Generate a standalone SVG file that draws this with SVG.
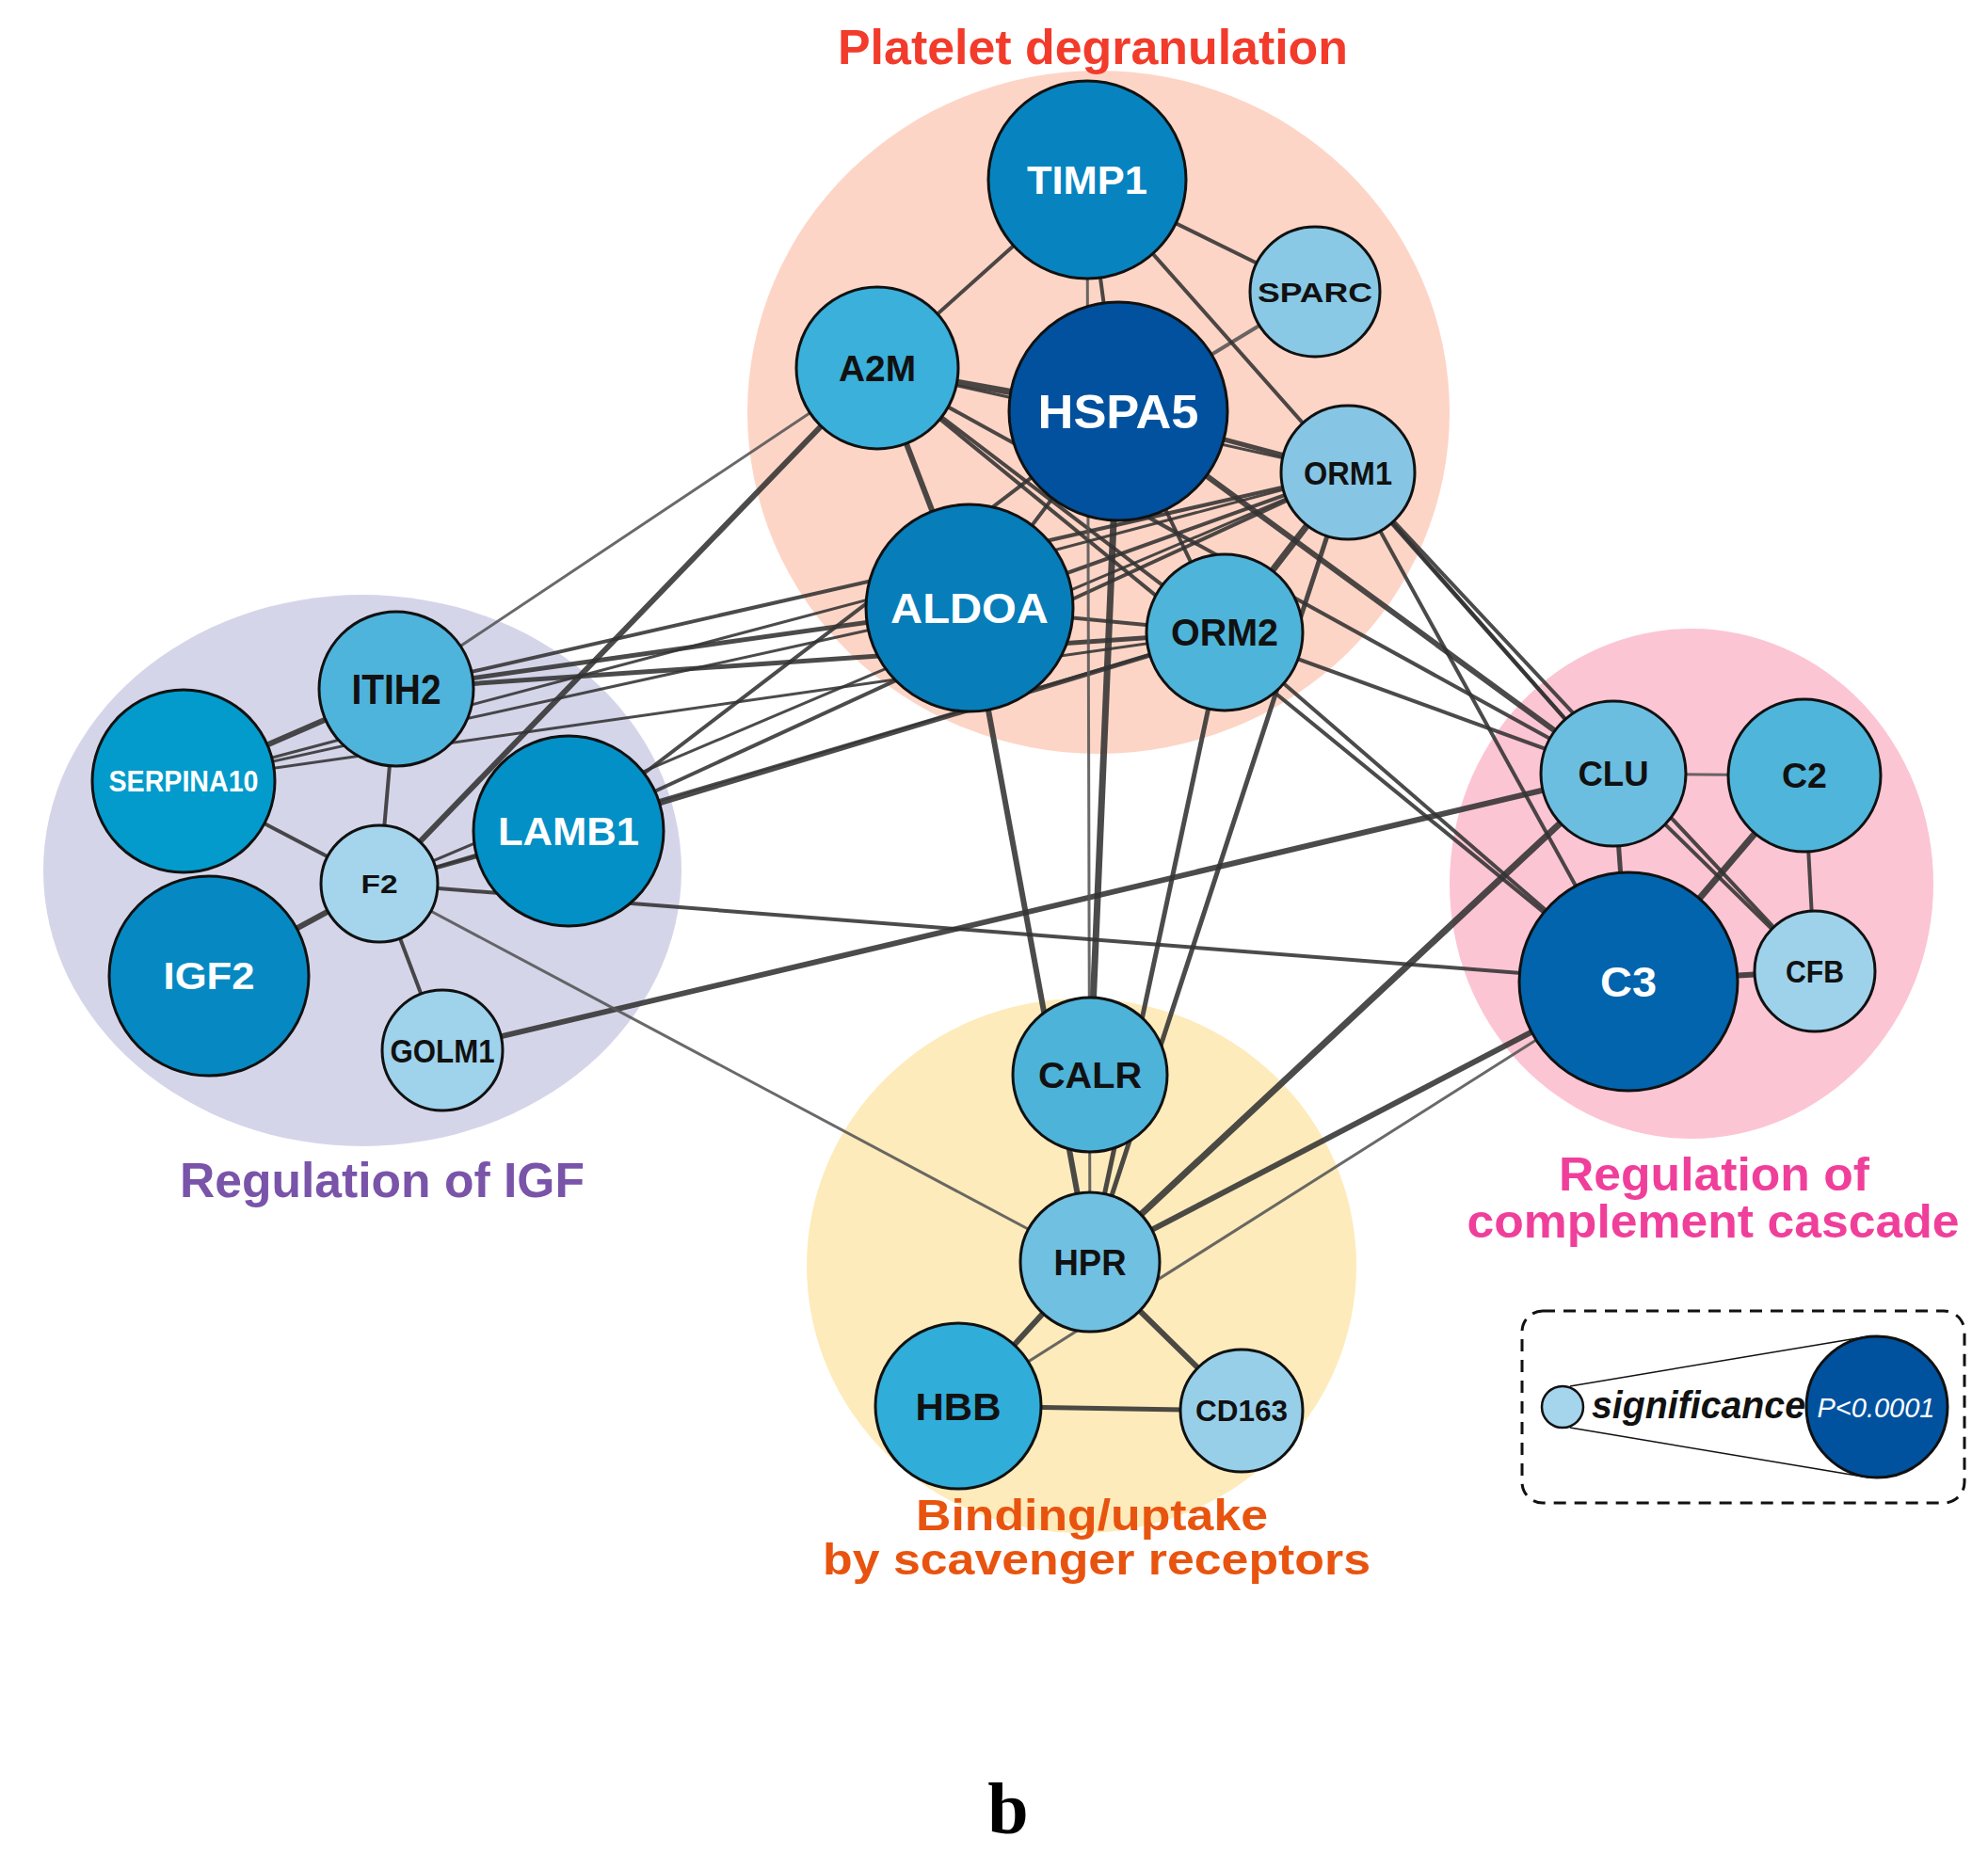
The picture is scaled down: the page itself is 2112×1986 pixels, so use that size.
<svg xmlns="http://www.w3.org/2000/svg" width="2112" height="1986" viewBox="0 0 2112 1986">
<style>
.bg{stroke:none}
.ed line{stroke:#333;stroke-linecap:round;opacity:.88}
.w7{stroke-width:7}.w6{stroke-width:6}.w5{stroke-width:5}.w4{stroke-width:4}.w3{stroke-width:3}
.ed line.lt{stroke:#555}
.nd circle{stroke:#111;stroke-width:3}
.lb{font-family:"Liberation Sans",Arial,sans-serif;font-weight:bold;text-anchor:middle}
.wh{fill:#fff}.bk{fill:#111}
.tt{font-family:"Liberation Sans",Arial,sans-serif;font-weight:bold;text-anchor:middle}
</style>
<rect width="2112" height="1986" fill="#fff"/>
<g id="backgrounds">
<ellipse class="bg" cx="1167" cy="438" rx="373" ry="363" fill="#fdd5c6"/>
<ellipse class="bg" cx="385" cy="925" rx="339" ry="293" fill="#d5d5ea"/>
<ellipse class="bg" cx="1797" cy="939" rx="257" ry="271" fill="#fcc5d4"/>
<ellipse class="bg" cx="1149" cy="1345" rx="292" ry="284" fill="#feebbb"/>
</g>
<g id="group-labels">
<text class="tt" x="1161" y="68" font-size="52" fill="#f23b2b" textLength="542" lengthAdjust="spacingAndGlyphs">Platelet degranulation</text>
<text class="tt" x="406" y="1272" font-size="52" fill="#7954a9" textLength="430" lengthAdjust="spacingAndGlyphs">Regulation of IGF</text>
<text class="tt" x="1821" y="1265" font-size="50" fill="#f03f9b" textLength="330" lengthAdjust="spacingAndGlyphs">Regulation of</text>
<text class="tt" x="1820" y="1315" font-size="50" fill="#f03f9b" textLength="523" lengthAdjust="spacingAndGlyphs">complement cascade</text>
<text class="tt" x="1160" y="1626" font-size="47" fill="#e8540f" textLength="374" lengthAdjust="spacingAndGlyphs">Binding/uptake</text>
<text class="tt" x="1165" y="1673" font-size="47" fill="#e8540f" textLength="582" lengthAdjust="spacingAndGlyphs">by scavenger receptors</text>
</g>
<g id="connectors" class="ed">
<line class="w7" x1="932" y1="391" x2="1188" y2="437"/>
<line class="w6" x1="932" y1="391" x2="1030" y2="646"/>
<line class="w7" x1="1188" y1="437" x2="1158" y2="1142"/>
<line class="w6" x1="1188" y1="437" x2="1714" y2="822"/>
<line class="w6" x1="403" y1="939" x2="932" y2="391"/>
<line class="w7" x1="1432" y1="502" x2="1301" y2="672"/>
<line class="w6" x1="195" y1="830" x2="421" y2="732"/>
<line class="w6" x1="222" y1="1037" x2="403" y2="939"/>
<line class="w6" x1="470" y1="1116" x2="1714" y2="822"/>
<line class="w7" x1="1714" y1="822" x2="1158" y2="1341"/>
<line class="w6" x1="1730" y1="1043" x2="1158" y2="1341"/>
<line class="w7" x1="1917" y1="824" x2="1730" y2="1043"/>
<line class="w6" x1="1730" y1="1043" x2="1928" y2="1032"/>
<line class="w6" x1="1158" y1="1341" x2="1018" y2="1494"/>
<line class="w6" x1="1158" y1="1341" x2="1319" y2="1499"/>
<line class="w6" x1="1030" y1="646" x2="1158" y2="1341"/>
<line class="w5" x1="1714" y1="822" x2="1730" y2="1043"/>
<line class="w4" x1="421" y1="732" x2="403" y2="939"/>
<line class="w4" x1="195" y1="830" x2="403" y2="939"/>
<line class="w4" x1="403" y1="939" x2="470" y2="1116"/>
<line class="w5" x1="1018" y1="1494" x2="1319" y2="1499"/>
<line class="w5" x1="1188" y1="437" x2="1432" y2="502"/>
<line class="w5" x1="1432" y1="502" x2="1158" y2="1341"/>
<line class="w5" x1="1301" y1="672" x2="1158" y2="1341"/>
<line class="w4" x1="1917" y1="824" x2="1928" y2="1032"/>
<line class="w3 lt" x1="1714" y1="822" x2="1917" y2="824"/>
<line class="w4" x1="1155" y1="191" x2="932" y2="391"/>
<line class="w4" x1="1155" y1="191" x2="1397" y2="310"/>
<line class="w4" x1="1155" y1="191" x2="1188" y2="437"/>
<line class="w4 lt" x1="1397" y1="310" x2="1188" y2="437"/>
<line class="w5" x1="421" y1="732" x2="1030" y2="646"/>
<line class="w4" x1="421" y1="732" x2="1432" y2="502"/>
<line class="w5" x1="421" y1="732" x2="1301" y2="672"/>
<line class="w5" x1="604" y1="883" x2="1301" y2="672"/>
<line class="w4" x1="604" y1="883" x2="1432" y2="502"/>
<line class="w4" x1="604" y1="883" x2="1188" y2="437"/>
<line class="w4" x1="403" y1="939" x2="604" y2="883"/>
<line class="w3" x1="403" y1="939" x2="1432" y2="502"/>
<line class="w3" x1="403" y1="939" x2="1301" y2="672"/>
<line class="w4" x1="1030" y1="646" x2="1432" y2="502"/>
<line class="w4" x1="1030" y1="646" x2="1301" y2="672"/>
<line class="w4" x1="1030" y1="646" x2="1188" y2="437"/>
<line class="w4" x1="932" y1="391" x2="1301" y2="672"/>
<line class="w4" x1="932" y1="391" x2="1714" y2="822"/>
<line class="w4" x1="932" y1="391" x2="1730" y2="1043"/>
<line class="w3" x1="932" y1="391" x2="1432" y2="502"/>
<line class="w4" x1="1188" y1="437" x2="1301" y2="672"/>
<line class="w4" x1="1432" y1="502" x2="1714" y2="822"/>
<line class="w4" x1="1432" y1="502" x2="1730" y2="1043"/>
<line class="w4" x1="1432" y1="502" x2="1928" y2="1032"/>
<line class="w4" x1="1301" y1="672" x2="1730" y2="1043"/>
<line class="w4" x1="1301" y1="672" x2="1714" y2="822"/>
<line class="w4" x1="1714" y1="822" x2="1928" y2="1032"/>
<line class="w4" x1="1155" y1="191" x2="1714" y2="822"/>
<line class="w3 lt" x1="1155" y1="191" x2="1158" y2="1341"/>
<line class="w3 lt" x1="421" y1="732" x2="932" y2="391"/>
<line class="w3 lt" x1="403" y1="939" x2="1158" y2="1341"/>
<line class="w4" x1="403" y1="939" x2="1730" y2="1043"/>
<line class="w3 lt" x1="1018" y1="1494" x2="1730" y2="1043"/>
<line class="w3" x1="195" y1="830" x2="1030" y2="646"/>
<line class="w3" x1="195" y1="830" x2="1301" y2="672"/>
<line class="w3" x1="195" y1="830" x2="1432" y2="502"/>
</g>
<g id="node-TIMP1" class="nd"><circle cx="1155" cy="191" r="105" fill="#0784c0"/><text class="lb wh" x="1155" y="206" font-size="43" textLength="128" lengthAdjust="spacingAndGlyphs">TIMP1</text></g>
<g id="node-SPARC" class="nd"><circle cx="1397" cy="310" r="69" fill="#89c9e5"/><text class="lb bk" x="1397" y="321" font-size="30" textLength="122" lengthAdjust="spacingAndGlyphs">SPARC</text></g>
<g id="node-A2M" class="nd"><circle cx="932" cy="391" r="86" fill="#3ab0da"/><text class="lb bk" x="932" y="405" font-size="39" textLength="82" lengthAdjust="spacingAndGlyphs">A2M</text></g>
<g id="node-HSPA5" class="nd"><circle cx="1188" cy="437" r="116" fill="#01519e"/><text class="lb wh" x="1188" y="455" font-size="50" textLength="171" lengthAdjust="spacingAndGlyphs">HSPA5</text></g>
<g id="node-ORM1" class="nd"><circle cx="1432" cy="502" r="71" fill="#86c6e4"/><text class="lb bk" x="1432" y="515" font-size="35" textLength="94" lengthAdjust="spacingAndGlyphs">ORM1</text></g>
<g id="node-ALDOA" class="nd"><circle cx="1030" cy="646" r="110" fill="#077dba"/><text class="lb wh" x="1030" y="662" font-size="45" textLength="168" lengthAdjust="spacingAndGlyphs">ALDOA</text></g>
<g id="node-ORM2" class="nd"><circle cx="1301" cy="672" r="83" fill="#4eb4da"/><text class="lb bk" x="1301" y="686" font-size="40" textLength="114" lengthAdjust="spacingAndGlyphs">ORM2</text></g>
<g id="node-ITIH2" class="nd"><circle cx="421" cy="732" r="82" fill="#4fb4dc"/><text class="lb bk" x="421" y="748" font-size="44" textLength="95" lengthAdjust="spacingAndGlyphs">ITIH2</text></g>
<g id="node-SERPINA10" class="nd"><circle cx="195" cy="830" r="97" fill="#039bcb"/><text class="lb wh" x="195" y="841" font-size="31" textLength="159" lengthAdjust="spacingAndGlyphs">SERPINA10</text></g>
<g id="node-LAMB1" class="nd"><circle cx="604" cy="883" r="101" fill="#0390c6"/><text class="lb wh" x="604" y="898" font-size="42" textLength="150" lengthAdjust="spacingAndGlyphs">LAMB1</text></g>
<g id="node-F2" class="nd"><circle cx="403" cy="939" r="62" fill="#a4d5ec"/><text class="lb bk" x="403" y="949" font-size="28" textLength="39" lengthAdjust="spacingAndGlyphs">F2</text></g>
<g id="node-IGF2" class="nd"><circle cx="222" cy="1037" r="106" fill="#0689c2"/><text class="lb wh" x="222" y="1051" font-size="40" textLength="97" lengthAdjust="spacingAndGlyphs">IGF2</text></g>
<g id="node-GOLM1" class="nd"><circle cx="470" cy="1116" r="64" fill="#9fd2eb"/><text class="lb bk" x="470" y="1129" font-size="35" textLength="111" lengthAdjust="spacingAndGlyphs">GOLM1</text></g>
<g id="node-CLU" class="nd"><circle cx="1714" cy="822" r="77" fill="#6cbee0"/><text class="lb bk" x="1714" y="835" font-size="37" textLength="75" lengthAdjust="spacingAndGlyphs">CLU</text></g>
<g id="node-C2" class="nd"><circle cx="1917" cy="824" r="81" fill="#50b5db"/><text class="lb bk" x="1917" y="837" font-size="37" textLength="48" lengthAdjust="spacingAndGlyphs">C2</text></g>
<g id="node-C3" class="nd"><circle cx="1730" cy="1043" r="116" fill="#0264ad"/><text class="lb wh" x="1730" y="1059" font-size="44" textLength="60" lengthAdjust="spacingAndGlyphs">C3</text></g>
<g id="node-CFB" class="nd"><circle cx="1928" cy="1032" r="64" fill="#9ed2eb"/><text class="lb bk" x="1928" y="1044" font-size="33" textLength="62" lengthAdjust="spacingAndGlyphs">CFB</text></g>
<g id="node-CALR" class="nd"><circle cx="1158" cy="1142" r="82" fill="#4db3d9"/><text class="lb bk" x="1158" y="1156" font-size="38" textLength="110" lengthAdjust="spacingAndGlyphs">CALR</text></g>
<g id="node-HPR" class="nd"><circle cx="1158" cy="1341" r="74" fill="#70c0e1"/><text class="lb bk" x="1158" y="1355" font-size="38" textLength="77" lengthAdjust="spacingAndGlyphs">HPR</text></g>
<g id="node-HBB" class="nd"><circle cx="1018" cy="1494" r="88" fill="#30add8"/><text class="lb bk" x="1018" y="1509" font-size="41" textLength="91" lengthAdjust="spacingAndGlyphs">HBB</text></g>
<g id="node-CD163" class="nd"><circle cx="1319" cy="1499" r="65" fill="#97cfe9"/><text class="lb bk" x="1319" y="1510" font-size="31" font-weight="normal" textLength="98" lengthAdjust="spacingAndGlyphs">CD163</text></g>
<g id="legend">
<rect x="1617" y="1393" width="470" height="204" rx="22" fill="none" stroke="#111" stroke-width="3" stroke-dasharray="13 9"/>
<line x1="1668" y1="1473" x2="1985" y2="1420" stroke="#111" stroke-width="1.5"/>
<line x1="1668" y1="1517" x2="1985" y2="1570" stroke="#111" stroke-width="1.5"/>
<circle cx="1994" cy="1495" r="75" fill="#01529e" stroke="#111" stroke-width="3"/>
<circle cx="1660" cy="1495" r="22" fill="#a4d5ec" stroke="#111" stroke-width="2.5"/>
<text x="1691" y="1507" font-family="'Liberation Sans',Arial,sans-serif" font-style="italic" font-weight="bold" font-size="40" fill="#111" textLength="227" lengthAdjust="spacingAndGlyphs">significance</text>
<text x="1993" y="1506" font-family="'Liberation Sans',Arial,sans-serif" font-style="italic" font-size="29" fill="#fff" text-anchor="middle" textLength="125" lengthAdjust="spacingAndGlyphs">P&lt;0.0001</text>
</g>
<text x="1071" y="1948" font-family="'Liberation Serif','Times New Roman',serif" font-weight="bold" font-size="78" fill="#000" text-anchor="middle">b</text>
</svg>
